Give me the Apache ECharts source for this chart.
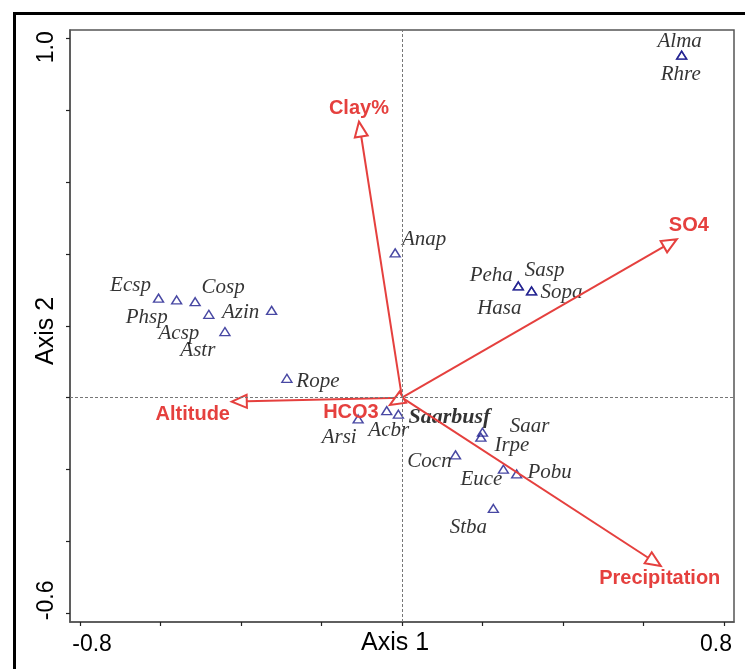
<!DOCTYPE html>
<html>
<head>
<meta charset="utf-8">
<script src="https://cdn.jsdelivr.net/npm/echarts@6/dist/echarts.min.js"></script>
<style>html,body{margin:0;padding:0;background:#fff;}#c{width:745px;height:669px;}</style>
</head>
<body>
<div id="c"></div>
<script>
// ---- data ----
const xTicks = [-0.8, -0.6, -0.4, -0.2, 0, 0.2, 0.4, 0.6, 0.8];
const yTicks = [-0.6, -0.4, -0.2, 0, 0.2, 0.4, 0.6, 0.8, 1.0];
const xTickLabels = [-0.8, 0.8];
const yTickLabels = [-0.6, 1.0];

const speciesNames = ['Alma','Rhre','Anap','Ecsp','Phsp','Cosp','Astr','Azin','Acsp','Rope',
  'Peha','Hasa','Sasp','Sopa','Acbr','Saarbusf','Arsi','Saar','Irpe','Cocn','Euce','Pobu','Stba'];
const speciesX = [0.695,0.695,-0.017,-0.605,-0.560,-0.514,-0.480,-0.324,-0.440,-0.286,
  0.289,0.289,0.322,0.322,-0.038,-0.009,-0.109,0.200,0.196,0.133,0.252,0.285,0.227];
const speciesY = [0.953,0.953,0.403,0.277,0.272,0.267,0.232,0.243,0.184,0.054,
  0.311,0.311,0.297,0.297,-0.036,-0.046,-0.059,-0.096,-0.110,-0.159,-0.199,-0.212,-0.308];

const envNames = ['Clay%','SO4','Precipitation','Altitude','HCO3'];
const envX = [-0.107, 0.683, 0.643, -0.423, -0.030];
const envY = [0.768, 0.441, -0.468, -0.011, -0.020];

// ---- label placement (pixel offsets, style only) ----
const speciesLabelOffset = {
  Alma:[-2,-14], Rhre:[-1,19], Anap:[29,-13], Ecsp:[-28,-13], Phsp:[-30,18], Cosp:[28,-14],
  Astr:[-11,36], Azin:[-31,2], Acsp:[-46,2], Rope:[31,3], Peha:[-27,-10], Hasa:[-19,23],
  Sasp:[13,-20], Sopa:[30,2], Acbr:[2,20], Saarbusf:[51,3], Arsi:[-19,19], Saar:[47,-6],
  Irpe:[31,8], Cocn:[-26,7], Euce:[-22,10], Pobu:[33,-1], Stba:[-25,19]
};
const envLabelOffset = {
  'Clay%':[0,-13], 'SO4':[12,-14], 'Precipitation':[-1,13], 'Altitude':[-39,13], 'HCO3':[-39,8]
};

const RED = '#e5403e';
const NAVY = '#1a1a8c';

const speciesData = speciesNames.map((n, i) => ({
  name: n,
  value: [speciesX[i], speciesY[i]],
  label: n === 'Saarbusf'
    ? { offset: speciesLabelOffset[n], fontWeight: 'bold', fontSize: 22 }
    : { offset: speciesLabelOffset[n] }
}));

const envData = envNames.map((n, i) => ({ name: n, value: [envX[i], envY[i]] }));

const chart = echarts.init(document.getElementById('c'), null, { renderer: 'canvas' });

function renderArrow(params, api) {
  const o = api.coord([0, 0]);
  const t = api.coord([api.value(0), api.value(1)]);
  const dx = t[0] - o[0], dy = t[1] - o[1];
  const len = Math.sqrt(dx * dx + dy * dy) || 1;
  const ux = dx / len, uy = dy / len;
  const headL = 15, headW = 6.5;
  const bx = t[0] - ux * headL, by = t[1] - uy * headL;
  const px = -uy, py = ux;
  const name = envNames[params.dataIndex];
  const off = envLabelOffset[name];
  const children = [];
  if (len > headL) {
    children.push({
      type: 'line',
      shape: { x1: o[0], y1: o[1], x2: bx, y2: by },
      style: { stroke: RED, lineWidth: 2 }
    });
  }
  children.push({
    type: 'polygon',
    shape: { points: [[t[0], t[1]], [bx + px * headW, by + py * headW], [bx - px * headW, by - py * headW]] },
    style: { fill: '#fff', stroke: RED, lineWidth: 2 }
  });
  children.push({
    type: 'text',
    style: {
      text: name, x: t[0] + off[0], y: t[1] + off[1],
      align: 'center', verticalAlign: 'middle',
      fill: RED, font: 'bold 20px "Liberation Sans", Arial, sans-serif'
    },
    z2: 10
  });
  return { type: 'group', children: children };
}

const option = {
  animation: false,
  backgroundColor: '#fff',
  grid: {
    left: 70, top: 30, right: 11, bottom: 47,
    containLabel: false, outerBoundsMode: 'none',
    show: true, borderColor: '#555', borderWidth: 1.5, backgroundColor: 'transparent'
  },
  graphic: [{
    type: 'rect', left: 12, top: 11, silent: true,
    shape: { width: 760, height: 700 },
    style: { fill: 'none', stroke: '#000', lineWidth: 3 }
  }],
  xAxis: {
    type: 'value', min: -0.825, max: 0.825,
    name: 'Axis 1', nameLocation: 'middle', nameGap: 9, nameMoveOverlap: false,
    nameTextStyle: { fontSize: 25, color: '#000', fontFamily: '"Liberation Sans", Arial, sans-serif', padding: [0, 14, 0, 0] },
    axisLine: { show: true, onZero: false, lineStyle: { color: '#555', width: 1.5 } },
    axisTick: { show: true, customValues: xTicks, length: 4, lineStyle: { color: '#222', width: 1.2 } },
    axisLabel: {
      customValues: xTickLabels, margin: 11, color: '#000', fontSize: 23,
      fontFamily: '"Liberation Sans", Arial, sans-serif',
      formatter: v => v < 0 ? '{a|' + v.toFixed(1) + '}' : '{b|' + v.toFixed(1) + '}',
      rich: {
        a: { fontSize: 23, padding: [0, 0, 0, 24] },
        b: { fontSize: 23, padding: [0, 16, 0, 0] }
      }
    },
    splitLine: { show: false }
  },
  yAxis: {
    type: 'value', min: -0.624, max: 1.023,
    name: 'Axis 2', nameLocation: 'middle', nameGap: 11, nameMoveOverlap: false,
    nameTextStyle: { fontSize: 25, color: '#000', fontFamily: '"Liberation Sans", Arial, sans-serif', padding: [0, 10, 0, 0] },
    axisLine: { show: true, onZero: false, lineStyle: { color: '#555', width: 1.5 } },
    axisTick: { show: true, customValues: yTicks, length: 4, lineStyle: { color: '#222', width: 1.2 } },
    axisLabel: {
      customValues: yTickLabels, rotate: 90, margin: 12, color: '#000', fontSize: 23,
      fontFamily: '"Liberation Sans", Arial, sans-serif',
      formatter: v => v > 0 ? '{a|' + v.toFixed(1) + '}' : '{b|' + v.toFixed(1) + '}',
      rich: {
        a: { fontSize: 23, padding: [0, 18, 0, 0] },
        b: { fontSize: 23, padding: [0, 0, 0, 26] }
      }
    },
    splitLine: { show: false }
  },
  series: [
    {
      type: 'scatter',
      data: speciesData,
      symbol: 'triangle',
      symbolSize: [10, 8],
      itemStyle: { color: 'rgba(255,255,255,0)', borderColor: NAVY, borderWidth: 1.4 },
      label: {
        show: true, position: 'inside', formatter: p => p.name,
        color: '#000', fontSize: 21, fontStyle: 'italic',
        textBorderWidth: 0, textBorderColor: 'transparent',
        fontFamily: '"Liberation Serif", "Times New Roman", serif'
      },
      markLine: {
        silent: true, symbol: 'none', animation: false,
        label: { show: false },
        lineStyle: { color: '#777', width: 1, type: [3, 2] },
        data: [{ xAxis: 0 }, { yAxis: 0 }]
      },
      z: 3
    },
    {
      type: 'custom',
      coordinateSystem: 'cartesian2d',
      data: envData,
      renderItem: renderArrow,
      z: 4
    }
  ]
};
chart.setOption(option);
</script>
</body>
</html>
